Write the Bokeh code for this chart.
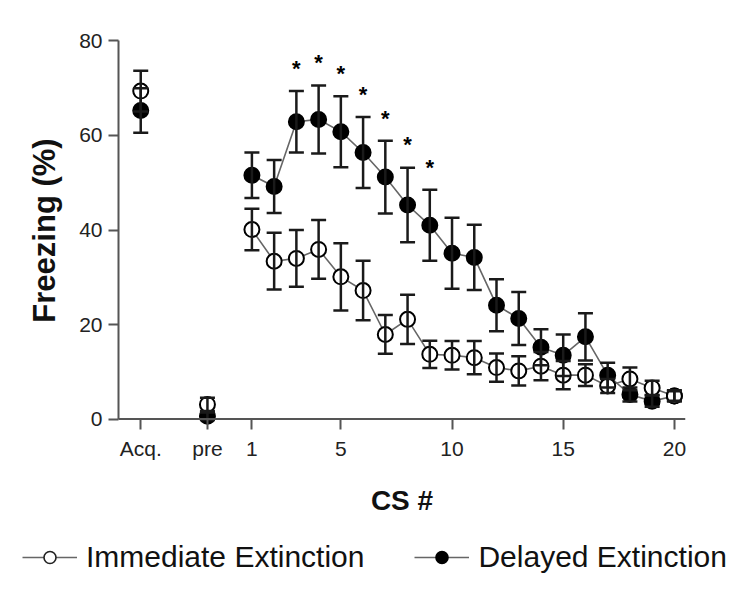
from bokeh.plotting import figure
from bokeh.layouts import column, row
from bokeh.models import (ColumnDataSource, Whisker, FixedTicker, Legend, LegendItem,
                          Range1d, TeeHead, Span)
from bokeh.core.properties import value
from bokeh.embed import file_html
from bokeh.resources import INLINE

# ---------------- data ----------------
cs = list(range(1, 21))
phase_labels = ["Acq.", "pre"]
phase_pos = [-4, -1]

imm_phase = [69.4, 3.1]
imm_phase_sem = [4.3, 1.4]
del_phase = [65.3, 0.6]
del_phase_sem = [4.7, 0.8]

imm = [40.1, 33.4, 34.0, 35.9, 30.1, 27.2, 17.9, 21.1, 13.7, 13.5,
       13.0, 10.9, 10.2, 11.2, 9.3, 9.3, 7.0, 8.5, 6.6, 4.9]
imm_sem = [4.4, 6.0, 6.0, 6.2, 7.1, 6.3, 4.1, 5.2, 2.9, 3.0,
           3.5, 3.0, 3.1, 3.0, 3.0, 2.3, 1.5, 2.4, 1.5, 1.0]
dly = [51.6, 49.2, 62.9, 63.4, 60.8, 56.4, 51.2, 45.3, 41.0, 35.1,
       34.2, 24.1, 21.3, 15.2, 13.5, 17.4, 9.3, 5.2, 3.8, 4.9]
dly_sem = [4.8, 5.6, 6.5, 7.2, 7.5, 7.5, 7.7, 7.9, 7.5, 7.5,
           6.9, 5.5, 5.6, 3.8, 4.4, 5.0, 2.6, 1.5, 1.2, 1.2]
sig_cs = [3, 4, 5, 6, 7, 8, 9]

series_names = ["Immediate Extinction", "Delayed Extinction"]
cs_ticks = [1, 5, 10, 15, 20]
y_ticks = [0, 20, 40, 60, 80]

FONT = "Liberation Sans"
AX = "#555555"
BAR = "#1a1a1a"
LINE = "#666666"

# ---------------- main figure ----------------
p = figure(frame_width=567, frame_height=398,
           x_range=Range1d(-5, 20.5), y_range=Range1d(-2.2, 82),
           output_backend="svg", toolbar_location=None,
           min_border_left=118, min_border_right=65, min_border_top=31,
           min_border_bottom=96, outline_line_color=None,
           background_fill_color="white", border_fill_color="white")
p.grid.visible = False

# visible x-axis line sits at y = 0
p.add_layout(Span(location=0, dimension="width", line_color=AX, line_width=2))

all_x = phase_pos + cs
all_y_i = imm_phase + imm
all_s_i = imm_phase_sem + imm_sem
all_y_d = del_phase + dly
all_s_d = del_phase_sem + dly_sem

src_i = ColumnDataSource(dict(x=all_x, y=all_y_i,
                              lo=[a - b for a, b in zip(all_y_i, all_s_i)],
                              hi=[a + b for a, b in zip(all_y_i, all_s_i)]))
src_d = ColumnDataSource(dict(x=all_x, y=all_y_d,
                              lo=[a - b for a, b in zip(all_y_d, all_s_d)],
                              hi=[a + b for a, b in zip(all_y_d, all_s_d)]))

for src in (src_d, src_i):
    w = Whisker(source=src, base="x", upper="hi", lower="lo",
                line_color=BAR, line_width=2.5,
                upper_head=TeeHead(size=15, line_color=BAR, line_width=2.5),
                lower_head=TeeHead(size=15, line_color=BAR, line_width=2.5),
                level="glyph")
    p.add_layout(w)

p.line(cs, dly, line_color=LINE, line_width=1.6)
p.line(cs, imm, line_color=LINE, line_width=1.6)

p.scatter("x", "y", source=src_d, size=15, marker="circle",
          fill_color="black", line_color="black", line_width=2)
p.scatter("x", "y", source=src_i, size=15, marker="circle",
          fill_color="white", line_color="black", line_width=2)

# significance asterisks above delayed-extinction error bars
ast_y = [dly[c - 1] + dly_sem[c - 1] + 4.8 for c in sig_cs]
p.text(x=sig_cs, y=ast_y, text=["*"] * len(sig_cs), text_align="center",
       text_baseline="middle", text_font=value(FONT), text_font_size="22px",
       text_font_style="bold", text_color="black")

# ---------------- axes ----------------
xa = p.xaxis[0]
xa.ticker = FixedTicker(ticks=phase_pos + cs_ticks)
xa.major_label_overrides = {pos: lab for pos, lab in zip(phase_pos, phase_labels)}
xa.minor_tick_line_color = None
xa.axis_line_color = None
xa.major_tick_out = 0
xa.major_tick_in = 10
xa.major_tick_line_width = 2
xa.major_tick_line_color = AX
xa.major_label_text_font = FONT
xa.major_label_text_font_size = "21px"
xa.major_label_text_color = "#222222"
xa.major_label_standoff = 7
xa.axis_label = "CS #"
xa.axis_label_text_font = FONT
xa.axis_label_text_font_size = "28px"
xa.axis_label_text_font_style = "bold"
xa.axis_label_text_color = "#111111"
xa.axis_label_standoff = 22

ya = p.yaxis[0]
ya.bounds = (0, 80)
ya.ticker = FixedTicker(ticks=y_ticks)
ya.minor_tick_line_color = None
ya.major_tick_out = 10
ya.major_tick_in = 0
ya.axis_line_width = 2
ya.axis_line_color = AX
ya.major_tick_line_width = 2
ya.major_tick_line_color = AX
ya.major_label_text_font = FONT
ya.major_label_text_font_size = "21px"
ya.major_label_text_color = "#222222"
ya.major_label_standoff = 6
ya.axis_label = "Freezing (%)"
ya.axis_label_text_font = FONT
ya.axis_label_text_font_size = "31px"
ya.axis_label_text_font_style = "bold"
ya.axis_label_text_color = "#111111"
ya.axis_label_standoff = 14

# ---------------- legend strip (own figure, series drawn off its ranges) ----------------
pl = figure(width=750, height=66, x_range=Range1d(100, 101), y_range=Range1d(100, 101),
            output_backend="svg", toolbar_location=None,
            min_border=0, outline_line_color=None,
            x_axis_location=None, y_axis_location=None,
            background_fill_color="white", border_fill_color="white")
pl.grid.visible = False
li = pl.line(cs, imm, line_color=LINE, line_width=1.5)
si = pl.scatter(cs, imm, marker="circle", size=12, fill_color="white",
                line_color="#222222", line_width=1.6)
ld = pl.line(cs, dly, line_color=LINE, line_width=1.5)
sd = pl.scatter(cs, dly, marker="circle", size=12, fill_color="black",
                line_color="black", line_width=1.6)
legend = Legend(items=[LegendItem(label=series_names[0], renderers=[li, si]),
                       LegendItem(label=series_names[1], renderers=[ld, sd])],
                orientation="horizontal", location=(18, 13),
                glyph_width=55, glyph_height=30, label_standoff=9, spacing=50,
                label_text_font=FONT, label_text_font_size="30px",
                label_text_color="#111111", border_line_alpha=0,
                background_fill_alpha=0, padding=4, margin=0)
pl.add_layout(legend)

layout = column(p, row(pl, spacing=0), spacing=0)
open("out.html", "w").write(file_html(layout, INLINE))
